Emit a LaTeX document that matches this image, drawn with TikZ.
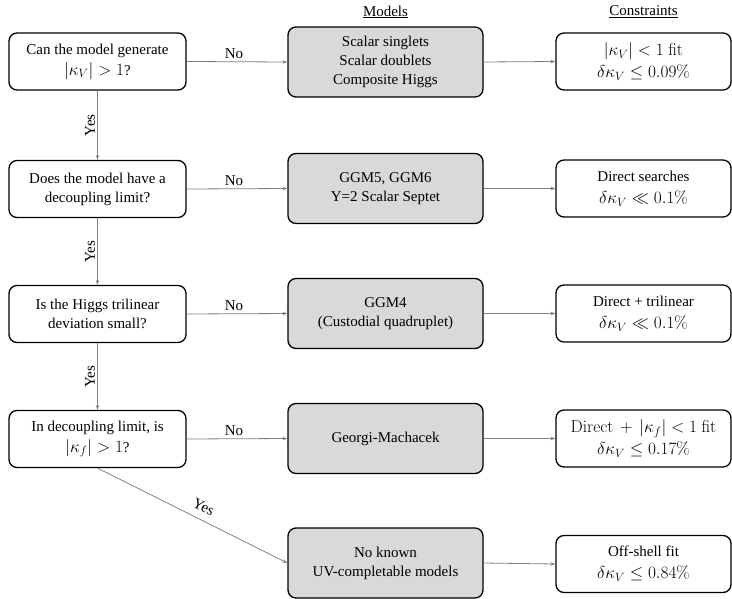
\documentclass[tikz,border=0pt]{standalone}
\usepackage[no-math]{fontspec}
\setmainfont{Liberation Serif}
\usetikzlibrary{arrows.meta}
\definecolor{boxgray}{HTML}{D9D9D9}
\definecolor{linegray}{HTML}{7F7F7F}
\newcommand{\mth}[1]{{\fontsize{18}{20}\selectfont$#1$}}
\begin{document}
\begin{tikzpicture}[x=1pt,y=-1pt,
  box/.style={draw=black, line width=1.3pt, rounded corners=8pt, align=center, inner sep=0pt, font=\fontsize{15}{19}\selectfont},
  qbox/.style={box, minimum width=177pt, minimum height=57pt},
  qmbox/.style={qbox, font=\fontsize{15}{21}\selectfont},
  mbox/.style={box, fill=boxgray, minimum width=195pt, minimum height=70pt},
  cbox/.style={box, minimum width=175pt, minimum height=57pt, font=\fontsize{15}{22}\selectfont},
  conn/.style={draw=linegray, line width=0.8pt, -{Stealth[length=5pt,width=3.5pt]}},
  lab/.style={font=\fontsize{15}{18}\selectfont, inner sep=3pt, text=black},
  ylab/.style={lab, rotate=90, anchor=south, inner sep=2pt},
  head/.style={font=\fontsize{15}{18}\selectfont, inner sep=0pt},
]
\useasboundingbox (0,0) rectangle (732,598);

% headers
\node[head] (hm) at (385.5,12) {\underline{Models}};
\node[head] (hc) at (643.5,12) {\underline{Constraints}};

% question boxes
\node[qmbox] (q1) at (97.5,61.5) {Can the model generate\\\mth{|\kappa_V|>1}?};
\node[qbox] (q2) at (97.5,189) {Does the model have a\\decoupling limit?};
\node[qbox] (q3) at (97.5,314) {Is the Higgs trilinear\\deviation small?};
\node[qmbox] (q4) at (97.5,439) {In decoupling limit, is\\\mth{|\kappa_f|>1}?};

% model boxes
\node[mbox] (m1) at (385.5,62) {Scalar singlets\\Scalar doublets\\Composite Higgs};
\node[mbox] (m2) at (385.5,188.5) {GGM5, GGM6\\Y=2 Scalar Septet};
\node[mbox] (m3) at (385.5,313.5) {GGM4\\(Custodial quadruplet)};
\node[mbox] (m4) at (385.5,438.5) {Georgi-Machacek};
\node[mbox] (m5) at (385.5,563) {No known\\UV-completable models};

% constraint boxes
\node[cbox] (c1) at (643.5,61.5) {\mth{|\kappa_V|<1~\mathrm{fit}}\\\mth{\delta\kappa_V\leq 0.09\%}};
\node[cbox] (c2) at (643.5,188.5) {Direct searches\\\mth{\delta\kappa_V\ll 0.1\%}};
\node[cbox] (c3) at (643.5,313.5) {Direct + trilinear\\\mth{\delta\kappa_V\ll 0.1\%}};
\node[cbox] (c4) at (643.5,438.5) {\mth{\mathrm{Direct}\,+\,|\kappa_f|<1~\mathrm{fit}}\\\mth{\delta\kappa_V\leq 0.17\%}};
\node[cbox] (c5) at (643.5,564) {Off-shell fit\\\mth{\delta\kappa_V\leq 0.84\%}};

% No connectors
\foreach \i in {1,2,3,4}{
  \draw[conn] (q\i.east) -- node[lab, above, pos=0.47] {No} (m\i.west);
}
% model -> constraint
\foreach \i in {1,2,3,4,5}{
  \draw[conn] (m\i.east) -- (c\i.west);
}
% Yes connectors
\draw[conn] (q1.south) -- node[ylab, pos=0.5] {Yes} (q2.north);
\draw[conn] (q2.south) -- node[ylab, pos=0.5] {Yes} (q3.north);
\draw[conn] (q3.south) -- node[ylab, pos=0.5] {Yes} (q4.north);
\draw[conn] (q4.south) -- node[lab, above=4pt, sloped, pos=0.53] {Yes} (m5.west);
\end{tikzpicture}
\end{document}
